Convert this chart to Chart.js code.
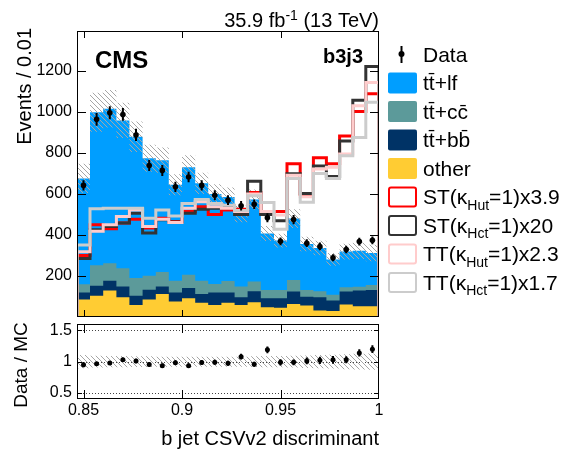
<!DOCTYPE html>
<html>
<head>
<meta charset="utf-8">
<script src="https://cdn.jsdelivr.net/npm/chart.js@4.4.0/dist/chart.umd.min.js"></script>
<style>
html, body { margin: 0; padding: 0; background: #fff; }
#wrap { position: relative; width: 568px; height: 449px; overflow: hidden; }
#main { position: absolute; left: 0; top: 0; }
#ratio { position: absolute; left: 0; top: 320px; }
</style>
</head>
<body>
<div id="wrap">
  <canvas id="main" width="568" height="321"></canvas>
  <canvas id="ratio" width="568" height="129"></canvas>
</div>
<script>
// bin edges of the b jet CSVv2 discriminant (23 bins)
const binEdges = [0.8467, 0.8533, 0.86, 0.8667, 0.8733, 0.88, 0.8867, 0.8933, 0.9, 0.9067, 0.9133, 0.92,
                  0.9267, 0.9333, 0.94, 0.9467, 0.9533, 0.96, 0.9667, 0.9733, 0.98, 0.9867, 0.9933, 1.0];

// observed events and their errors
const dataCounts = [642, 964, 996, 988, 888, 739, 715, 635, 683, 642, 594, 570, 543, 550, 484, 369, 475, 360, 344, 289, 329, 368, 374];
const dataErr    = [25, 31, 32, 31, 30, 27, 27, 25, 26, 25, 24, 24, 23, 23, 22, 19, 22, 19, 19, 17, 18, 19, 19];

// backgrounds (stacked: other, tt+bb, tt+cc, tt+lf)
const otherBkg = [85, 104, 129, 96, 59, 85, 112, 75, 92, 69, 59, 70, 59, 72, 48, 45, 64, 56, 32, 29, 61, 53, 53];
const ttbb     = [35, 49, 48, 53, 45, 48, 37, 45, 49, 43, 61, 50, 37, 53, 44, 47, 60, 43, 64, 51, 63, 76, 79];
const ttcc     = [40, 99, 85, 89, 86, 68, 71, 57, 65, 65, 41, 55, 53, 48, 40, 40, 56, 33, 29, 29, 21, 19, 24];
const ttlf     = [516, 747, 754, 721, 689, 573, 545, 468, 524, 475, 439, 410, 354, 400, 275, 241, 300, 224, 212, 172, 174, 175, 156];
// relative MC uncertainty (hatched band)
const mcUnc    = [0.105, 0.095, 0.09, 0.09, 0.085, 0.085, 0.08, 0.08, 0.08, 0.08, 0.08, 0.08, 0.08, 0.085, 0.09, 0.09, 0.095, 0.1, 0.105, 0.11, 0.12, 0.125, 0.13];

// scaled signals
const stHut = [300, 450, 430, 458, 477, 434, 482, 466, 514, 538, 500, 522, 525, 607, 506, 514, 747, 597, 777, 747, 883, 1002, 1089];
const stHct = [285, 426, 442, 458, 506, 410, 474, 463, 506, 525, 530, 533, 500, 662, 500, 470, 699, 602, 737, 685, 859, 1057, 1222];
const ttHut = [318, 418, 450, 490, 522, 442, 477, 461, 530, 562, 538, 530, 515, 600, 515, 498, 691, 586, 722, 731, 795, 1030, 1144];
const ttHct = [351, 528, 530, 530, 530, 482, 522, 493, 554, 573, 554, 545, 520, 592, 559, 428, 675, 560, 700, 675, 787, 876, 1047];

// axis ticks
const xTicks = [0.85, 0.9, 0.95, 1];
const xTickLabels = ['0.85', '0.9', '0.95', '1'];
const yTicks = [200, 400, 600, 800, 1000, 1200];
const ratioTicks = [0.5, 1, 1.5];

const FONT = '"Liberation Sans", Arial, Helvetica, sans-serif';
const COL = {
    lf: '#009eff', cc: '#5c9a9a', bb: '#003366', other: '#ffcc33',
    stHut: '#ff0000', stHct: '#333333', ttHut: '#ffcccc', ttHct: '#cccccc'
};
Chart.defaults.font.family = FONT;
Chart.defaults.color = '#000';

const nBins = dataCounts.length;
const centers = binEdges.slice(0, nBins).map((e, i) => (e + binEdges[i + 1]) / 2);
const cumBB = otherBkg.map((v, i) => v + ttbb[i]);
const cumCC = cumBB.map((v, i) => v + ttcc[i]);
const mcTotal = cumCC.map((v, i) => v + ttlf[i]);
const ratio = dataCounts.map((d, i) => d / mcTotal[i]);
const ratioErr = dataErr.map((e, i) => e / mcTotal[i]);

function stepPoints(vals, closed) {
    const pts = vals.map((v, i) => ({x: binEdges[i], y: v}));
    pts.push({x: binEdges[vals.length], y: vals[vals.length - 1]});
    if (closed) {
        pts.unshift({x: binEdges[0], y: 0});
        pts.push({x: binEdges[vals.length], y: 0});
    }
    return pts;
}

// hatch pattern for the uncertainty band
function makeHatch() {
    const c = document.createElement('canvas');
    c.width = 5; c.height = 5;
    const g = c.getContext('2d');
    g.strokeStyle = '#a6a6a6';
    g.lineWidth = 1;
    g.beginPath();
    g.moveTo(0, 0); g.lineTo(5, 5);
    g.moveTo(-1, 4); g.lineTo(1, 6);
    g.moveTo(4, -1); g.lineTo(6, 1);
    g.stroke();
    return g.createPattern(c, 'repeat');
}
const hatch = makeHatch();

const NONE = 'rgba(0,0,0,0)';
function stepSet(vals, opts, closed) {
    return Object.assign({
        data: stepPoints(vals, closed), stepped: 'before', pointRadius: 0,
        borderWidth: 0, borderColor: NONE, fill: false, tension: 0
    }, opts);
}
function sigSet(vals, color, order) {
    return stepSet(vals, {borderColor: color, borderWidth: 3, order: order}, true);
}

// frame with inward ticks on all sides
const framePlugin = {
    id: 'frame',
    afterDatasetsDraw(chart, args, o) {
        const {ctx, chartArea: a, scales} = chart;
        ctx.save();
        ctx.strokeStyle = '#000';
        ctx.lineWidth = 1;
        ctx.beginPath();
        xTicks.forEach(v => {
            const px = Math.min(Math.round(scales.x.getPixelForValue(v)) + 0.5, a.right - 0.5);
            ctx.moveTo(px, a.top); ctx.lineTo(px, a.top + o.xLen);
            ctx.moveTo(px, a.bottom); ctx.lineTo(px, a.bottom - o.xLen);
        });
        scales.y.ticks.forEach(t => {
            const py = Math.round(scales.y.getPixelForValue(t.value)) + 0.5;
            ctx.moveTo(a.left, py); ctx.lineTo(a.left + o.yLen, py);
            ctx.moveTo(a.right, py); ctx.lineTo(a.right - o.yLen, py);
        });
        ctx.stroke();
        ctx.strokeRect(Math.round(a.left) + 0.5, Math.round(a.top) + 0.5,
            Math.round(a.right - a.left) - 1, Math.round(a.bottom - a.top) - 1);
        ctx.restore();
    }
};

// vertical error bars on the data points
const errPlugin = {
    id: 'errbars',
    afterDatasetsDraw(chart, args, o) {
        const {ctx, scales: {y}} = chart;
        const meta = chart.getDatasetMeta(0);
        ctx.save();
        ctx.strokeStyle = '#000';
        ctx.lineWidth = 2;
        ctx.beginPath();
        meta.data.forEach((pt, i) => {
            const v = o.values[i], e = o.errors[i];
            ctx.moveTo(pt.x, y.getPixelForValue(v - e));
            ctx.lineTo(pt.x, y.getPixelForValue(v + e));
        });
        ctx.stroke();
        ctx.restore();
    }
};

function drawParts(ctx, parts, x, y, size, align) {
    const fonts = parts.map(p => (p[1] ? Math.round(size * 0.68) : size) + 'px ' + FONT);
    const widths = parts.map((p, i) => { ctx.font = fonts[i]; return ctx.measureText(p[0]).width; });
    let cx = align === 'right' ? x - widths.reduce((s, w) => s + w, 0) : x;
    ctx.textAlign = 'left';
    ctx.textBaseline = 'alphabetic';
    parts.forEach((p, i) => {
        ctx.font = fonts[i];
        ctx.fillText(p[0], cx, y + (p[1] > 0 ? 0.28 * size : p[1] < 0 ? -0.36 * size : 0));
        cx += widths[i];
    });
}

const legendRows = [
    {kind: 'data', parts: [['Data', 0]]},
    {kind: 'fill', color: COL.lf, parts: [['tt\u0304+lf', 0]]},
    {kind: 'fill', color: COL.cc, parts: [['tt\u0304+cc\u0304', 0]]},
    {kind: 'fill', color: COL.bb, parts: [['tt\u0304+bb\u0304', 0]]},
    {kind: 'fill', color: COL.other, parts: [['other', 0]]},
    {kind: 'line', color: COL.stHut, parts: [['ST(\u03ba', 0], ['Hut', 1], ['=1)x3.9', 0]]},
    {kind: 'line', color: COL.stHct, parts: [['ST(\u03ba', 0], ['Hct', 1], ['=1)x20', 0]]},
    {kind: 'line', color: COL.ttHut, parts: [['TT(\u03ba', 0], ['Hut', 1], ['=1)x2.3', 0]]},
    {kind: 'line', color: COL.ttHct, parts: [['TT(\u03ba', 0], ['Hct', 1], ['=1)x1.7', 0]]}
];

function roundRect(ctx, x, y, w, h, r) {
    ctx.beginPath();
    ctx.moveTo(x + r, y);
    ctx.arcTo(x + w, y, x + w, y + h, r);
    ctx.arcTo(x + w, y + h, x, y + h, r);
    ctx.arcTo(x, y + h, x, y, r);
    ctx.arcTo(x, y, x + w, y, r);
    ctx.closePath();
}

const mainDeco = {
    id: 'mainDeco',
    afterDraw(chart) {
        const {ctx, chartArea: a} = chart;
        ctx.save();
        ctx.fillStyle = '#000';
        drawParts(ctx, [['35.9 fb', 0], ['-1', -1], [' (13 TeV)', 0]], a.right, 27, 20, 'right');
        ctx.font = 'bold 24px ' + FONT;
        ctx.textAlign = 'left';
        ctx.fillText('CMS', 95, 68);
        ctx.font = 'bold 20px ' + FONT;
        ctx.textAlign = 'right';
        ctx.fillText('b3j3', 363, 63);
        // y title
        ctx.save();
        ctx.translate(31, 28);
        ctx.rotate(-Math.PI / 2);
        ctx.font = '20px ' + FONT;
        ctx.textAlign = 'right';
        ctx.textBaseline = 'alphabetic';
        ctx.fillText('Events / 0.01', 0, 0);
        ctx.restore();
        // legend
        legendRows.forEach((row, i) => {
            const cy = 54 + i * 28.5;
            if (row.kind === 'data') {
                ctx.strokeStyle = '#000';
                ctx.lineWidth = 2;
                ctx.beginPath();
                ctx.moveTo(401.5, cy - 8); ctx.lineTo(401.5, cy + 9);
                ctx.stroke();
                ctx.beginPath();
                ctx.arc(401.5, cy, 3, 0, Math.PI * 2);
                ctx.fill();
            } else if (row.kind === 'fill') {
                ctx.fillStyle = row.color;
                roundRect(ctx, 388, cy - 10, 29, 21, 2);
                ctx.fill();
            } else {
                ctx.strokeStyle = row.color;
                ctx.lineWidth = 2;
                roundRect(ctx, 389, cy - 9, 27, 19, 2);
                ctx.stroke();
            }
            ctx.fillStyle = '#000';
            drawParts(ctx, row.parts, 423, cy + 7.5, 21, 'left');
        });
        ctx.restore();
    }
};

// dotted reference lines in the ratio panel
const ratioGrid = {
    id: 'ratioGrid',
    beforeDatasetsDraw(chart) {
        const {ctx, chartArea: a, scales: {y}} = chart;
        ctx.save();
        ctx.strokeStyle = '#444';
        ctx.lineWidth = 1;
        ctx.setLineDash([1, 2]);
        ctx.beginPath();
        ratioTicks.forEach(v => {
            const py = Math.round(y.getPixelForValue(v)) + 0.5;
            ctx.moveTo(a.left, py); ctx.lineTo(a.right, py);
        });
        ctx.stroke();
        ctx.restore();
    },
    afterDraw(chart) {
        const {ctx, chartArea: a} = chart;
        ctx.save();
        ctx.fillStyle = '#000';
        ctx.font = '20px ' + FONT;
        ctx.textAlign = 'right';
        ctx.textBaseline = 'alphabetic';
        ctx.fillText('b jet CSVv2 discriminant', a.right, 125);
        ctx.translate(27, 45);
        ctx.rotate(-Math.PI / 2);
        ctx.font = '19px ' + FONT;
        ctx.textAlign = 'center';
        ctx.fillText('Data / MC', 0, 0);
        ctx.restore();
    }
};

function fixWidth(s) {
    s.width = 77;
    s.paddingTop = 0; s.paddingBottom = 0; s.paddingLeft = 0; s.paddingRight = 0;
}

new Chart(document.getElementById('main'), {
    type: 'line',
    data: {
        datasets: [
            {data: centers.map((x, i) => ({x: x, y: dataCounts[i]})), showLine: false, pointRadius: 2.8,
             pointBorderWidth: 0, pointBackgroundColor: '#000', borderColor: '#000', order: 0},
            sigSet(ttHct, COL.ttHct, 1),
            sigSet(ttHut, COL.ttHut, 2),
            sigSet(stHct, COL.stHct, 3),
            sigSet(stHut, COL.stHut, 4),
            stepSet(mcTotal.map((v, i) => v * (1 + mcUnc[i])), {fill: '+1', backgroundColor: hatch, order: 5}),
            stepSet(mcTotal.map((v, i) => v * (1 - mcUnc[i])), {order: 6}),
            stepSet(otherBkg, {fill: 'origin', backgroundColor: COL.other, order: 7}),
            stepSet(cumBB, {fill: 'origin', backgroundColor: COL.bb, order: 8}),
            stepSet(cumCC, {fill: 'origin', backgroundColor: COL.cc, order: 9}),
            stepSet(mcTotal, {fill: 'origin', backgroundColor: COL.lf, order: 10})
        ]
    },
    options: {
        responsive: false,
        animation: false,
        layout: {padding: {left: 0, right: 189, top: 31, bottom: 0}},
        plugins: {
            legend: {display: false},
            tooltip: {enabled: false},
            frame: {xLen: 7, yLen: 9},
            errbars: {values: dataCounts, errors: dataErr}
        },
        scales: {
            x: {type: 'linear', min: binEdges[0], max: binEdges[nBins], display: false},
            y: {
                type: 'linear', min: 0, max: 1395,
                afterFit: fixWidth,
                afterBuildTicks: s => { s.ticks = yTicks.map(v => ({value: v})); },
                grid: {display: false, drawTicks: false},
                border: {display: false},
                ticks: {font: {size: 16}, color: '#000', padding: 5, callback: v => String(v)}
            }
        }
    },
    plugins: [framePlugin, errPlugin, mainDeco]
});

new Chart(document.getElementById('ratio'), {
    type: 'line',
    data: {
        datasets: [
            {data: centers.map((x, i) => ({x: x, y: ratio[i]})), showLine: false, pointRadius: 2.5,
             pointBorderWidth: 0, pointBackgroundColor: '#000', borderColor: '#000', order: 0},
            stepSet(mcUnc.map(u => 1 + u), {fill: '+1', backgroundColor: hatch, order: 1}),
            stepSet(mcUnc.map(u => 1 - u), {order: 2})
        ]
    },
    options: {
        responsive: false,
        animation: false,
        layout: {padding: {left: 0, right: 189, top: 0, bottom: 0}},
        plugins: {
            legend: {display: false},
            tooltip: {enabled: false},
            frame: {xLen: 9, yLen: 5},
            errbars: {values: ratio, errors: ratioErr}
        },
        scales: {
            x: {
                type: 'linear', min: binEdges[0], max: binEdges[nBins],
                afterFit: s => { s.height = 50; s.paddingLeft = 0; s.paddingRight = 0; },
                afterBuildTicks: s => { s.ticks = xTicks.map(v => ({value: v})); },
                grid: {display: false, drawTicks: false},
                border: {display: false},
                ticks: {font: {size: 16}, color: '#000', padding: 2, autoSkip: false, maxRotation: 0,
                        callback: v => xTickLabels[xTicks.indexOf(v)]}
            },
            y: {
                type: 'linear', min: 0.405, max: 1.6,
                afterFit: fixWidth,
                afterBuildTicks: s => { s.ticks = ratioTicks.map(v => ({value: v})); },
                grid: {display: false, drawTicks: false},
                border: {display: false},
                ticks: {font: {size: 16}, color: '#000', padding: 5, callback: v => String(v)}
            }
        }
    },
    plugins: [ratioGrid, framePlugin, errPlugin]
});
</script>
</body>
</html>
